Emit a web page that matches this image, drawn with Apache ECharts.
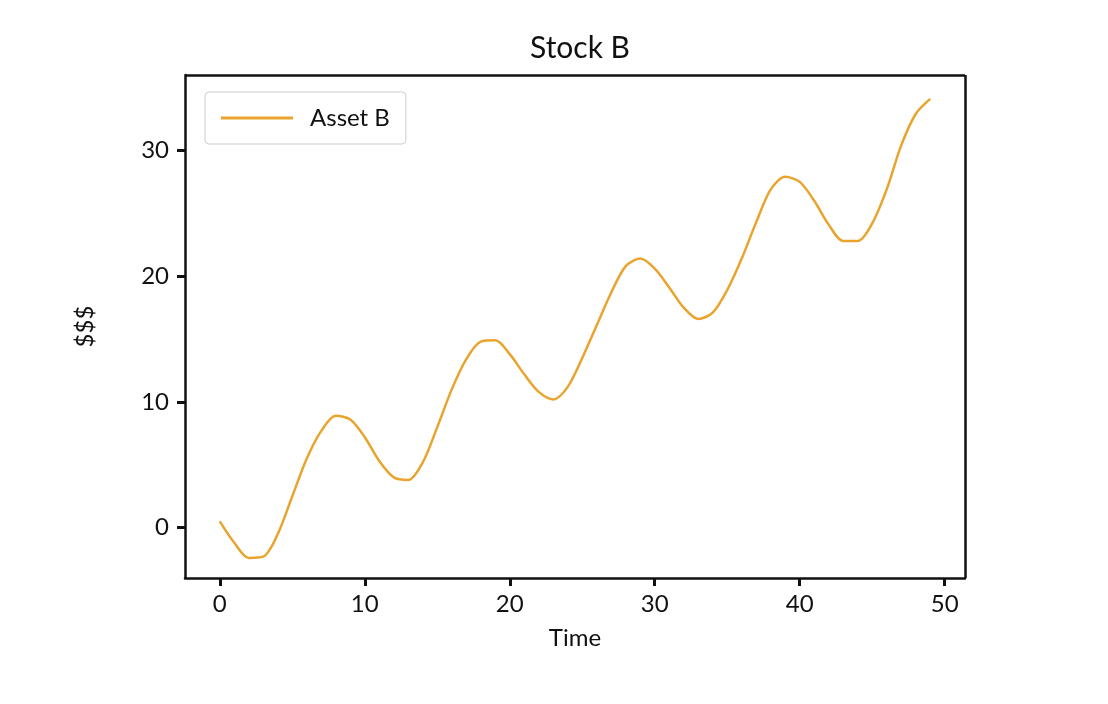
<!DOCTYPE html>
<html><head><meta charset="utf-8">
<script src="https://cdn.jsdelivr.net/npm/echarts@6/dist/echarts.min.js"></script>
<style>body{margin:0;background:#fff}#c{width:1108px;height:704px}</style>
</head><body><div id="c"></div>
<script>
// values
const timeSteps = Array.from({length: 50}, (_, i) => i);
const assetB = [0.5, -1.2, -2.4, -2.3, -0.5, 2.5, 5.5, 7.7, 8.9, 8.6,
  7.2, 5.3, 4.0, 3.8, 5.2, 8.0, 11.0, 13.4, 14.8, 14.9,
  13.8, 12.2, 10.8, 10.2, 11.2, 13.5, 16.1, 18.7, 20.8, 21.4,
  20.6, 19.1, 17.5, 16.6, 17.1, 18.9, 21.4, 24.3, 26.9, 27.9,
  27.5, 26.0, 24.1, 22.8, 22.8, 24.2, 26.9, 30.4, 32.9, 34.1];
const xTicks = [0, 10, 20, 30, 40, 50];
const yTicks = [0, 10, 20, 30];

const font = 'Lato';
var myChart = echarts.init(document.getElementById('c'));
var option = {
    animation: false,
    title: {
        text: 'Stock B', left: 575, top: 28, textAlign: 'center',
        textStyle: {fontFamily: font, fontSize: 30, fontWeight: 'normal', color: '#111'}
    },
    grid: {left: 185, right: 143, top: 75, bottom: 126},
    legend: {
        left: 205, top: 92, padding: [14, 16], itemGap: 0,
        borderColor: '#ccc', borderWidth: 1, borderRadius: 4, backgroundColor: '#fff',
        itemWidth: 72, itemHeight: 3,
        textStyle: {fontFamily: font, fontSize: 24, color: '#111', padding: [0, 0, 0, 12]},
        data: [{name: 'Asset B', icon: 'rect'}]
    },
    xAxis: {
        type: 'value', min: -2.4, max: 51.4,
        name: 'Time', nameLocation: 'middle', nameGap: 48,
        nameTextStyle: {fontFamily: font, fontSize: 24, color: '#111'},
        axisLine: {show: true, onZero: false, lineStyle: {color: '#111', width: 2.5}},
        axisTick: {show: true, customValues: xTicks, length: 8, lineStyle: {color: '#111', width: 3}},
        axisLabel: {customValues: xTicks, fontFamily: font, fontSize: 24, color: '#111', margin: 14},
        splitLine: {show: false}
    },
    yAxis: {
        type: 'value', min: -4, max: 36,
        name: '$$$', nameLocation: 'middle', nameGap: 88, nameRotate: 90,
        nameTextStyle: {fontFamily: font, fontSize: 24, color: '#111'},
        axisLine: {show: true, onZero: false, lineStyle: {color: '#111', width: 2.5}},
        axisTick: {show: true, customValues: yTicks, length: 8, lineStyle: {color: '#111', width: 3}},
        axisLabel: {customValues: yTicks, fontFamily: font, fontSize: 24, color: '#111', margin: 16},
        splitLine: {show: false}
    },
    series: [{
        name: 'Asset B', type: 'line', showSymbol: false, smooth: 0.3,
        data: timeSteps.map((t, i) => [t, assetB[i]]),
        lineStyle: {color: '#E9A42E', width: 2.5}, itemStyle: {color: '#E9A42E'}
    }, {
        // top/right frame of the axes box
        type: 'line', silent: true, data: [],
        markLine: {
            symbol: 'none', silent: true, label: {show: false},
            lineStyle: {color: '#111', width: 2.5, type: 'solid'},
            data: [[{coord: [-2.4, 36]}, {coord: [51.4, 36]}], [{coord: [51.4, -4]}, {coord: [51.4, 36]}]]
        }
    }]
};
option && myChart.setOption(option);
</script></body></html>
